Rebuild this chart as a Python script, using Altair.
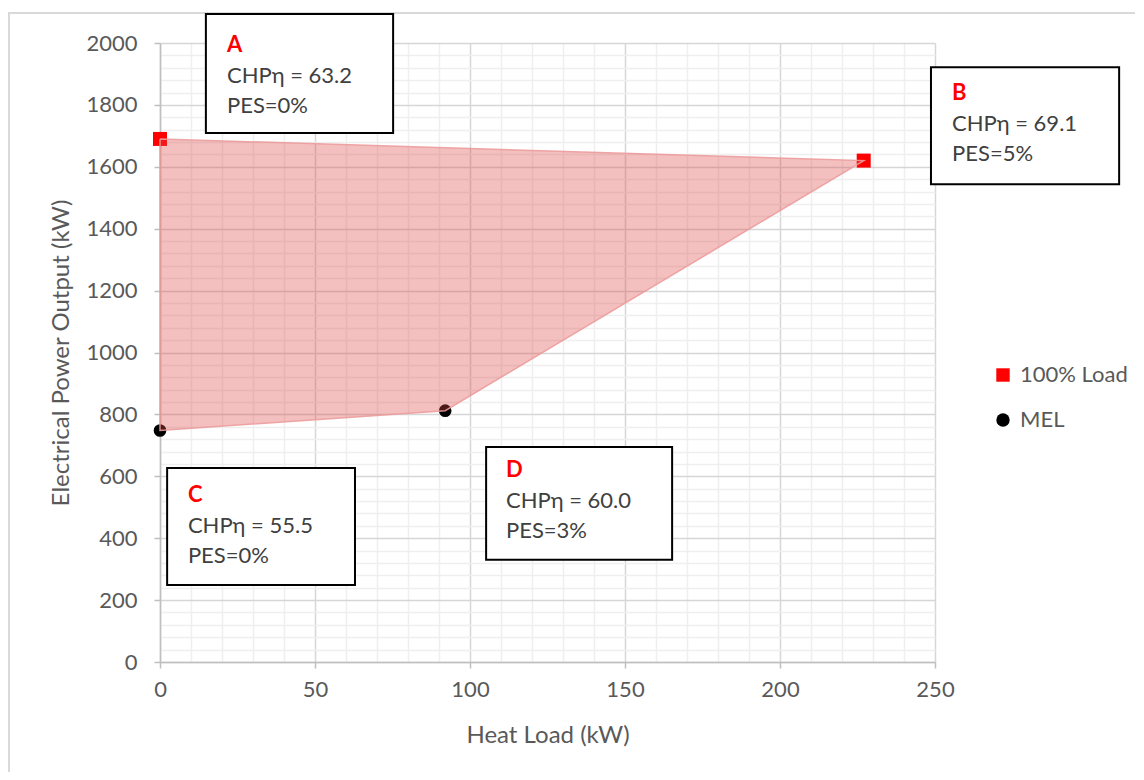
import altair as alt
import pandas as pd

# ---- data ----
series = ["100% Load", "MEL"]
heat_100 = [0, 227]        # points A, B
power_100 = [1690, 1620]
heat_mel = [0, 92]         # points C, D
power_mel = [748, 812]

box_labels = ["A", "B", "C", "D"]
box_chp = ["63.2", "69.1", "55.5", "60.0"]
box_pes = ["0%", "5%", "0%", "3%"]
# annotation boxes (data units)
box_x0 = [14.8, 248.7, 2.3, 105.2]
box_x1 = [75.2, 309.4, 62.9, 165.2]
box_ytop = [2094, 1922, 627, 695]
box_ybot = [1709, 1544, 249, 330]
text_x = [21.6, 255.5, 9.0, 111.6]
text_y = [1993, 1838, 540, 620]

x_ticks = list(range(0, 251, 10))
y_ticks = list(range(0, 2001, 40))

FONT = "Lato"
GRAY = "#595959"

pts = pd.DataFrame({
    "x": heat_100 + heat_mel,
    "y": power_100 + power_mel,
    "s": [series[0]] * 2 + [series[1]] * 2,
})
poly = pd.DataFrame({
    "x": [heat_100[0], heat_100[1], heat_mel[1], heat_mel[0], heat_100[0]],
    "y": [power_100[0], power_100[1], power_mel[1], power_mel[0], power_100[0]],
    "o": [0, 1, 2, 3, 4],
})
boxes = pd.DataFrame({
    "x0": box_x0, "x1": box_x1, "y0": box_ytop, "y1": box_ybot,
    "tx": text_x, "ty": text_y,
    "lab": box_labels,
    "chp": ["CHPη = " + c for c in box_chp],
    "pes": ["PES=" + p for p in box_pes],
})

x_axis = alt.Axis(
    values=x_ticks, title="Heat Load (kW)",
    labelExpr="datum.value % 50 === 0 ? datum.label : ''",
    labelFlush=False, labelOverlap=False,
    gridColor={"condition": {"test": "datum.value % 50 === 0", "value": "#D6D6D6"}, "value": "#EFEFEF"},
    gridWidth=1.5,
    tickOpacity={"condition": {"test": "datum.value % 50 === 0", "value": 1}, "value": 0},
    tickColor="#BFBFBF", tickSize=6, tickWidth=1.5,
    domainColor="#BFBFBF", domainWidth=1.5,
    labelFont=FONT, labelFontSize=22, labelColor=GRAY, labelPadding=11,
    titleFont=FONT, titleFontSize=24, titleColor=GRAY, titleFontWeight="normal", titlePadding=23,
)
y_axis = alt.Axis(
    values=y_ticks, title="Electrical Power Output (kW)",
    labelExpr="datum.value % 200 === 0 ? datum.label : ''",
    labelFlush=False, labelOverlap=False,
    format="d",
    gridColor={"condition": {"test": "datum.value % 200 === 0", "value": "#D6D6D6"}, "value": "#EFEFEF"},
    gridWidth=1.5,
    tickOpacity={"condition": {"test": "datum.value % 200 === 0", "value": 1}, "value": 0},
    tickColor="#BFBFBF", tickSize=6, tickWidth=1.5,
    domainColor="#BFBFBF", domainWidth=1.5,
    labelFont=FONT, labelFontSize=22, labelColor=GRAY, labelPadding=17,
    titleFont=FONT, titleFontSize=24, titleColor=GRAY, titleFontWeight="normal", titlePadding=12,
)
xs = alt.Scale(domain=[0, 250], nice=False, zero=False)
ys = alt.Scale(domain=[0, 2000], nice=False, zero=False)

def X(f):
    return alt.X(f, type="quantitative", scale=xs, axis=x_axis)

def Y(f):
    return alt.Y(f, type="quantitative", scale=ys, axis=y_axis)

frame = alt.Chart(pd.DataFrame({"a": [0]})).mark_rect(
    fill="transparent", stroke="#D9D9D9", strokeWidth=2
).encode(x=alt.value(-151), x2=alt.value(3000), y=alt.value(-30), y2=alt.value(3000))

leg = dict(title=None, orient="none", legendX=832, legendY=321,
           labelFont=FONT, labelFontSize=22, labelColor=GRAY,
           symbolSize=180, rowPadding=23, labelOffset=6,
           symbolStrokeWidth=0, padding=0)

points = alt.Chart(pts).mark_point(filled=True, opacity=1).encode(
    x=X("x"), y=Y("y"),
    color=alt.Color("s:N", scale=alt.Scale(domain=series, range=["#FF0000", "#000000"]),
                    legend=alt.Legend(**leg)),
    shape=alt.Shape("s:N", scale=alt.Scale(domain=series, range=["square", "circle"]),
                    legend=alt.Legend(**leg)),
    size=alt.condition(alt.datum.s == series[0], alt.value(196), alt.value(160)),
)

area = alt.Chart(poly).mark_line(
    fill="#E04848", fillOpacity=0.35, stroke="#EC9C9C", strokeWidth=1.5, strokeOpacity=0.9
).encode(x=X("x"), y=Y("y"), order="o:Q")

rects = alt.Chart(boxes).mark_rect(fill="white", stroke="black", strokeWidth=2).encode(
    x=X("x0"), x2="x1", y=Y("y0"), y2="y1"
)
t_lab = alt.Chart(boxes).mark_text(
    align="left", baseline="middle", font=FONT, fontSize=22, fontWeight="bold", color="#FF0000"
).encode(x=X("tx"), y=Y("ty"), text="lab:N")
t_chp = alt.Chart(boxes).mark_text(
    align="left", baseline="middle", font=FONT, fontSize=22, color="#404040", dy=31
).encode(x=X("tx"), y=Y("ty"), text="chp:N")
t_pes = alt.Chart(boxes).mark_text(
    align="left", baseline="middle", font=FONT, fontSize=22, color="#404040", dy=61
).encode(x=X("tx"), y=Y("ty"), text="pes:N")

chart = alt.layer(frame, points, area, rects, t_lab, t_chp, t_pes).properties(
    width=775, height=619,
    autosize=alt.AutoSizeParams(type="none"),
    padding={"left": 152, "top": 35, "right": 200, "bottom": 110},
    background="white",
).configure_view(stroke=None)

chart.save("out.html", embed_options={"renderer": "svg", "actions": False})
